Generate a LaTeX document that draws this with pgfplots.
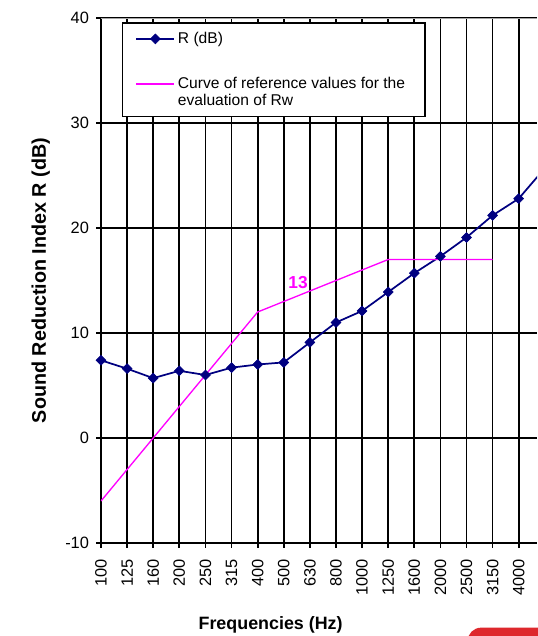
\documentclass[border=0pt]{standalone}
\usepackage{pgfplots}
\pgfplotsset{compat=1.18}
\usepackage{fontspec}
\setmainfont{Liberation Sans}
\definecolor{navyR}{RGB}{0,0,128}
\definecolor{mag}{RGB}{255,0,255}
\definecolor{logored}{RGB}{222,40,45}
\begin{document}
\begin{tikzpicture}
\useasboundingbox (-75.75pt,-69.75pt) rectangle (327pt,407.25pt);
\begin{axis}[
  scale only axis,
  width=327pt, height=393.75pt,
  xmin=0, xmax=16.7, ymin=-10, ymax=40,
  axis x line*=bottom, axis y line*=left,
  axis line style={black, line width=1.3pt},
  xtick={0,...,17},
  xticklabels={100,125,160,200,250,315,400,500,630,800,1000,1250,1600,2000,2500,3150,4000,5000},
  ytick={-10,0,10,20,30,40},
  xmajorgrids, ymajorgrids,
  grid style={black, line width=1.3pt},
  tick align=center,
  major tick length=7pt,
  tick style={black, line width=1.3pt},
  /pgf/number format/assume math mode=true,
  ticklabel style={font=\fontsize{12.3}{14}\selectfont},
  x tick label style={rotate=90, anchor=east},
  xticklabel shift=5pt,
  yticklabel shift=2pt,
  xlabel={\textbf{Frequencies (Hz)}},
  ylabel={\textbf{Sound Reduction Index R (dB)}},
  xlabel style={font=\fontsize{13.4}{15}\selectfont, at={(axis description cs:0.389,0)}, yshift=-61.5pt, anchor=center},
  ylabel style={font=\fontsize{14.8}{16}\selectfont, at={(axis description cs:-0.138,0.5)}, anchor=center},
  legend style={at={(axis description cs:0.048,0.992)}, anchor=north west,
    draw=black, line width=1.1pt, fill=white,
    font=\fontsize{11.7}{12.75}\selectfont,
    cells={align=left}, row sep=19.5pt,
    inner xsep=4pt, inner ysep=5pt},
  legend cell align=left,
  legend image code/.code={\path (0cm,0cm); \draw[mark repeat=2,mark phase=2,#1] plot coordinates {(0.2cm,0cm) (0.7cm,0cm) (1.2cm,0cm)};},
]
\addplot[navyR, line width=1.3pt, mark=square*, mark size=2.6pt, mark options={rotate=45, fill=navyR, draw=navyR, line width=0.5pt}]
  coordinates {(0,7.4) (1,6.6) (2,5.7) (3,6.4) (4,6.0) (5,6.7) (6,7.0) (7,7.2) (8,9.1) (9,11.0) (10,12.1) (11,13.9) (12,15.7) (13,17.3) (14,19.1) (15,21.2) (16,22.8) (17,25.7)};
\addlegendentry{R (dB)}
\addplot[mag, line width=1pt, mark=none,
  legend image code/.code={\path (0cm,0cm); \draw[mag, line width=1.1pt] (0.2cm,0.21cm) -- (1.2cm,0.21cm);}]
  coordinates {(0,-6) (1,-3) (2,0) (3,3) (4,6) (5,9) (6,12) (7,13) (8,14) (9,15) (10,16) (11,17) (12,17) (13,17) (14,17) (15,17)};
\addlegendentry{Curve of reference values for the\hspace*{9pt}\\evaluation of Rw}
\node[text=mag, font=\fontsize{13}{15}\selectfont\bfseries] at (axis cs:7.55,14.8) {13};
\draw[gray!70, line width=1.2pt] (rel axis cs:0,1) -- (rel axis cs:1,1);
\end{axis}
\fill[logored, rounded corners=10pt] (275pt,-63.5pt) rectangle (360pt,-100pt);
\end{tikzpicture}
\end{document}
